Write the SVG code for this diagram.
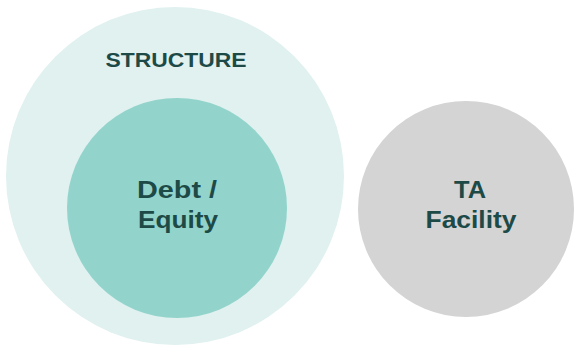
<svg xmlns="http://www.w3.org/2000/svg" width="577" height="345" viewBox="0 0 577 345">
<style>
text{font-family:"Liberation Sans",Arial,sans-serif;font-weight:bold;fill:#1d4a47;text-anchor:middle}
.big{font-size:24px}
</style>
<rect width="577" height="345" fill="#ffffff"/>
<g id="structure">
<circle cx="175" cy="176" r="169" fill="#e0f1f0"/>
<text x="176" y="67" font-size="20" textLength="141" lengthAdjust="spacingAndGlyphs">STRUCTURE</text>
</g>
<g id="debt-equity">
<circle cx="177" cy="208" r="110" fill="#92d4cb"/>
<text class="big" x="177" y="198" textLength="80" lengthAdjust="spacingAndGlyphs">Debt /</text>
<text class="big" x="178" y="228" textLength="80" lengthAdjust="spacingAndGlyphs">Equity</text>
</g>
<g id="ta-facility">
<circle cx="466" cy="209" r="108" fill="#d4d4d4"/>
<text class="big" x="470" y="198" textLength="32" lengthAdjust="spacingAndGlyphs">TA</text>
<text class="big" x="471" y="228" textLength="91" lengthAdjust="spacingAndGlyphs">Facility</text>
</g>
<g id="connectors"/>
</svg>
